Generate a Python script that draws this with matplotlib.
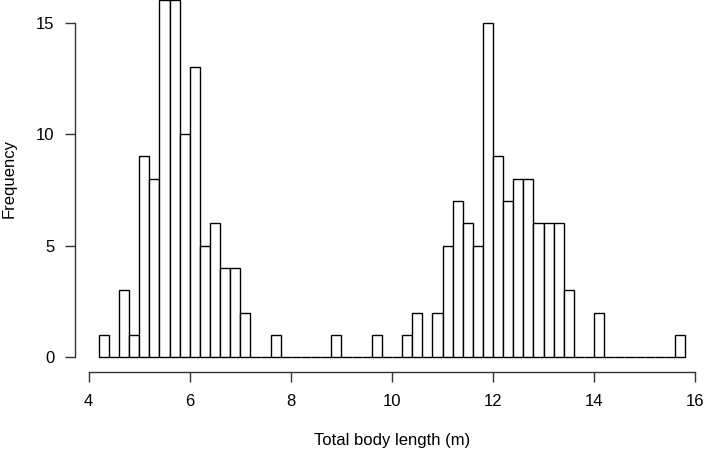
import numpy as np
import matplotlib
matplotlib.use("Agg")
import matplotlib.pyplot as plt

# histogram bins (m), width 0.2, starting at 4.2
bin_start = 4.2
bin_width = 0.2
counts = [1, 0, 3, 1, 9, 8, 16, 16, 10, 13,
          5, 6, 4, 4, 2, 0, 0, 1, 0, 0,
          0, 0, 0, 1, 0, 0, 0, 1, 0, 0,
          1, 2, 0, 2, 5, 7, 6, 5, 15, 9,
          7, 8, 8, 6, 6, 6, 3, 0, 0, 2,
          0, 0, 0, 0, 0, 0, 0, 1]
x_ticks = [4, 6, 8, 10, 12, 14, 16]
y_ticks = [0, 5, 10, 15]

plt.rcParams['font.family'] = ['Liberation Sans', 'DejaVu Sans']

W, H = 704, 450
fig = plt.figure(figsize=(W / 100, H / 100), dpi=100)

# plot region in pixels (R-style, top and right run past the picture)
left, right = 75.3, 708.6
bottom, top = 371.5, -13.9
ax = fig.add_axes([left / W, 1 - bottom / H, (right - left) / W, (bottom - top) / H])

edges = bin_start + bin_width * np.arange(len(counts))
ax.bar(edges, counts, width=bin_width, align='edge', facecolor='white',
       edgecolor='black', linewidth=1.0)

nb = len(counts)
xmin, xmax = bin_start, bin_start + bin_width * nb
pad = 0.04 * (xmax - xmin)
ax.set_xlim(xmin - pad, xmax + pad)
ax.set_ylim(-0.04 * 16, 16 + 0.04 * 16)

for s in ['top', 'right']:
    ax.spines[s].set_visible(False)
ax.spines['left'].set_bounds(0, 15)
ax.spines['bottom'].set_bounds(4, 16)
for s in ['left', 'bottom']:
    ax.spines[s].set_linewidth(1.0)
    ax.spines[s].set_color('#333333')

ax.set_xticks(x_ticks)
ax.set_yticks(y_ticks)
ax.tick_params(axis='both', length=7.2, width=1.0, color='#333333',
               labelsize=12, pad=8)
ax.tick_params(axis='x', pad=9)

ax.set_xlabel('Total body length (m)', fontsize=12, labelpad=17)
ax.set_ylabel('Frequency', fontsize=12, labelpad=14)

fig.savefig('out.png', dpi=100)
